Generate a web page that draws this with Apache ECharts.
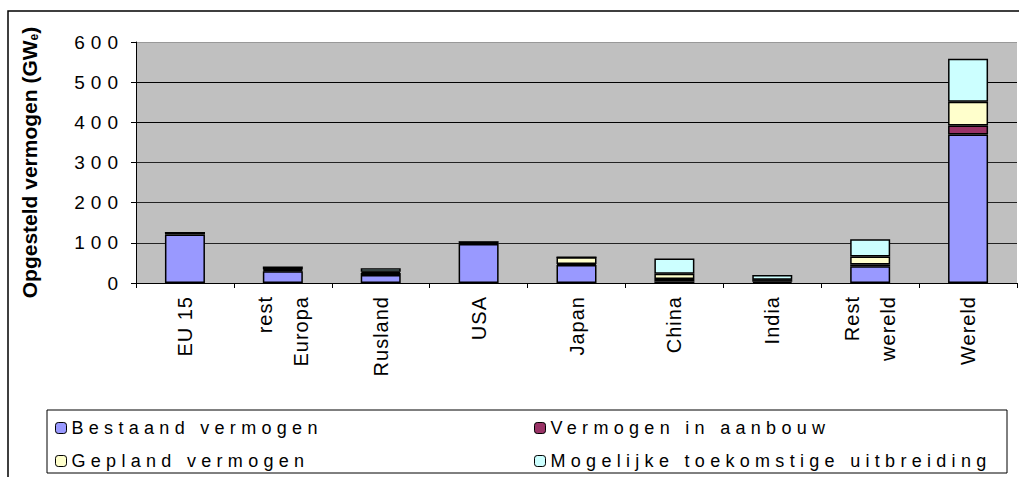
<!DOCTYPE html>
<html>
<head>
<meta charset="utf-8">
<script src="https://cdn.jsdelivr.net/npm/echarts@6/dist/echarts.min.js"></script>
<style>
  html, body { margin: 0; padding: 0; background: #fff; }
  #chart { width: 1019px; height: 477px; }
  /* the original excel export has very wide letter spacing */
  #chart text[style*="19px"] { letter-spacing: 6px; }    /* y labels */
  #chart text[style*="18px"] { letter-spacing: 5.3px; }  /* legend */
  #chart text[style*="20px"] { letter-spacing: 1px; }    /* x labels */
</style>
</head>
<body>
<div id="chart"></div>
<script>
var categories = ['EU 15', 'rest\nEuropa', 'Rusland', 'USA', 'Japan', 'China', 'India', 'Rest\nwereld', 'Wereld'];
var bestaand = [121, 29, 20, 97, 45, 4, 3, 42, 370];   // Bestaand vermogen
var aanbouw  = [4, 3, 5, 3, 2, 6, 4, 4, 22];           // Vermogen in aanbouw
var gepland  = [0, 2, 3, 2, 17, 13, 1, 20, 59];        // Gepland vermogen
var mogelijk = [0, 7, 9, 0, 0, 38, 12, 43, 107];       // Mogelijke toekomstige uitbreiding
var yTicks = [0, 100, 200, 300, 400, 500, 600];

var font = 'Arial, "Liberation Sans", sans-serif';

function bar(name, data, color) {
  return {
    name: name,
    type: 'bar',
    stack: 'total',
    barWidth: 40,
    data: data,
    itemStyle: { color: color, borderColor: '#000', borderWidth: 1.5 }
  };
}

// one legend per item so each sits where the original put it
function legendItem(name, left, top) {
  return {
    data: [name],
    left: left, top: top,
    itemWidth: 11, itemHeight: 11, itemGap: 5,
    itemStyle: { borderColor: '#000', borderWidth: 1 },
    textStyle: { fontSize: 18, color: '#000', fontFamily: font }
  };
}

var chart = echarts.init(document.getElementById('chart'), null, { renderer: 'svg' });
chart.setOption({
  animation: false,
  backgroundColor: '#fff',
  textStyle: { fontFamily: font, color: '#000' },
  graphic: [
    { type: 'rect', z: 0, shape: { x: 8, y: 11, width: 1100, height: 600 },
      style: { fill: 'none', stroke: '#000', lineWidth: 1.5 } },
    { type: 'rect', z: 0, shape: { x: 47, y: 410, width: 960, height: 63 },
      style: { fill: '#fff', stroke: '#000', lineWidth: 1 } }
  ],
  legend: [
    legendItem('Bestaand vermogen', 50, 414),
    legendItem('Gepland vermogen', 50, 447),
    legendItem('Vermogen in aanbouw', 529, 414),
    legendItem('Mogelijke toekomstige uitbreiding', 529, 447)
  ],
  grid: {
    left: 136, right: 2, top: 42, bottom: 194,
    show: true, backgroundColor: '#c0c0c0', borderWidth: 0
  },
  xAxis: {
    type: 'category',
    data: categories,
    axisLine: { lineStyle: { color: '#000', width: 1 } },
    axisTick: { show: true, interval: 0, length: 5, lineStyle: { color: '#000' } },
    axisLabel: {
      interval: 0, rotate: 90, margin: 13,
      fontSize: 20, lineHeight: 36, color: '#000', fontFamily: font
    }
  },
  yAxis: {
    type: 'value',
    min: yTicks[0], max: yTicks[yTicks.length - 1], interval: 100,
    name: 'Opgesteld vermogen (GW{e|e})',
    nameLocation: 'middle',
    nameRotate: 90,
    nameGap: 96,
    nameTextStyle: {
      fontSize: 21, fontWeight: 'bold', color: '#000', fontFamily: font,
      rich: { e: { fontSize: 12, fontWeight: 'bold', verticalAlign: 'bottom', padding: [10, 0, 0, 0] } }
    },
    axisLine: { show: true, lineStyle: { color: '#000', width: 1 } },
    axisTick: { show: true, length: 5, lineStyle: { color: '#000' } },
    axisLabel: { fontSize: 19, margin: 12, color: '#000', fontFamily: font },
    splitLine: {
      show: true,
      lineStyle: { color: ['#000', '#222', '#222', '#222', '#000', '#000', '#999'], width: 1 }
    }
  },
  series: [
    bar('Bestaand vermogen', bestaand, '#9999ff'),
    bar('Vermogen in aanbouw', aanbouw, '#993366'),
    bar('Gepland vermogen', gepland, '#ffffcc'),
    bar('Mogelijke toekomstige uitbreiding', mogelijk, '#ccffff')
  ]
});
</script>
</body>
</html>
